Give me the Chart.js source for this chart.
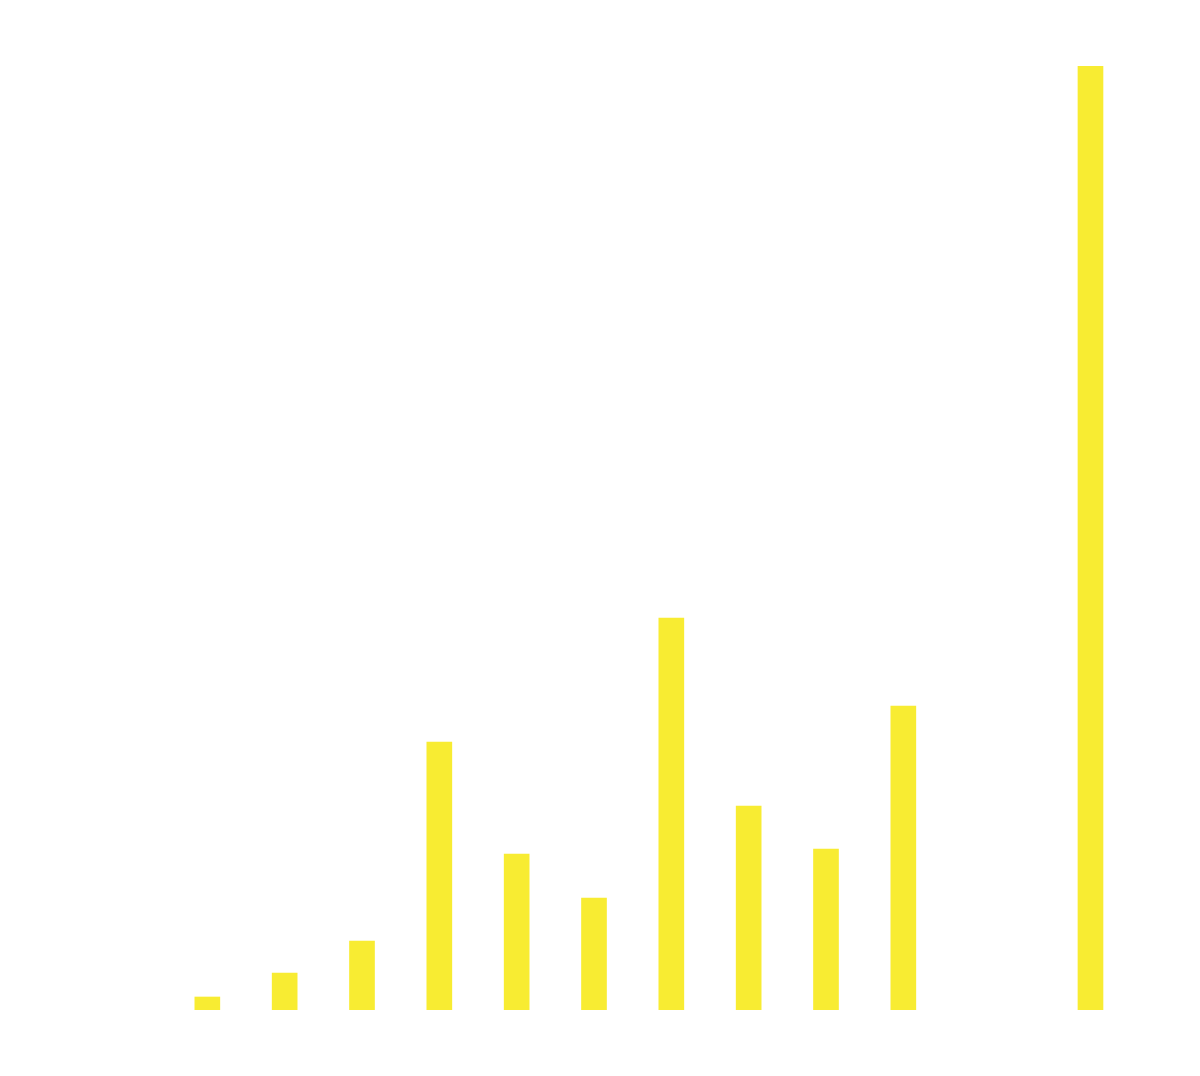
<!DOCTYPE html>
<html>
<head>
<meta charset="utf-8">
<script src="https://cdn.jsdelivr.net/npm/chart.js@4/dist/chart.umd.min.js"></script>
<style>
  html, body { margin: 0; padding: 0; background: #ffffff; }
  #wrap { width: 1200px; height: 1076px; }
</style>
</head>
<body>
<div id="wrap"><canvas id="barChart"></canvas></div>
<script>
// data block
const xPositions = [1, 2, 3, 4, 5, 6, 7, 8, 9, 10, 12.42];
const barValues = [13, 37, 69, 268, 156, 112, 392, 204, 161, 304, 944];

const barChartData = {
    datasets: [{
        data: xPositions.map((x, i) => ({ x: x, y: barValues[i] })),
        backgroundColor: '#f8ec32',
        borderWidth: 0,
        barThickness: 25
    }]
};

// options
const barChartOptions = {
    responsive: true,
    maintainAspectRatio: false,
    animation: false,
    layout: {
        padding: { left: 130, right: 26, top: 66, bottom: 66 }
    },
    plugins: {
        legend: { display: false },
        tooltip: { enabled: false }
    },
    scales: {
        x: {
            type: 'linear',
            display: false,
            offset: false,
            min: 0,
            max: 13.5
        },
        y: {
            display: false,
            min: 0,
            max: 944
        }
    }
};

// render block
const barChart = new Chart(
    document.getElementById('barChart'),
    { type: 'bar', data: barChartData, options: barChartOptions }
);
</script>
</body>
</html>
